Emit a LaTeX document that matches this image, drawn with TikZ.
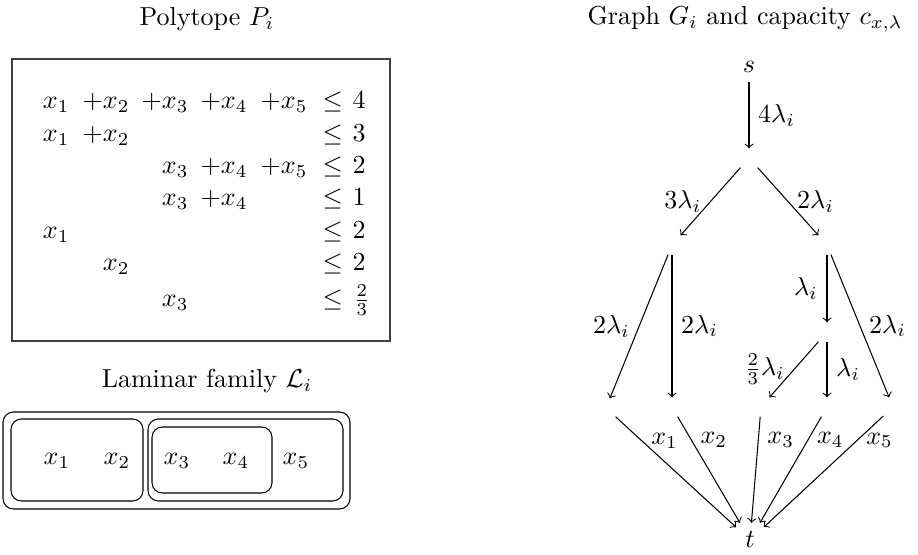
\documentclass[tikz,border=0pt]{standalone}
\begin{document}
\begin{tikzpicture}[x=0.3846pt,y=-0.3846pt,
  ttl/.style={anchor=base, inner sep=0pt},
  ent/.style={anchor=base east, inner sep=0pt},
  rel/.style={anchor=base west, inner sep=0pt},
  vx/.style={minimum size=7pt, inner sep=0pt},
  lam/.style={draw, rounded corners=4pt},
  arr/.style={->}]
\useasboundingbox (0,0) rectangle (918,555);
% titles
\node[ttl] (tP) at (207,26) {Polytope $P_i$};
\node[ttl] (tL) at (207,388) {Laminar family $\mathcal{L}_i$};
\node[ttl] (tG) at (745,25) {Graph $G_i$ and capacity $c_{x,\lambda}$};
% polytope box
\draw[line width=0.5pt, draw=black!75] (12,59) rectangle (390,341);
% row 1
\node[ent] (r1a) at (70,109) {$x_1$};
\node[ent] (r1b) at (130,109) {$+x_2$};
\node[ent] (r1c) at (189,109) {$+x_3$};
\node[ent] (r1d) at (248,109) {$+x_4$};
\node[ent] (r1e) at (308,109) {$+x_5$};
\node[rel] (r1l) at (322,109) {$\le$};
\node[rel] (r1r) at (352,109) {$4$};
% row 2
\node[ent] (r2a) at (70,141.5) {$x_1$};
\node[ent] (r2b) at (130,141.5) {$+x_2$};
\node[rel] (r2l) at (322,141.5) {$\le$};
\node[rel] (r2r) at (352,141.5) {$3$};
% row 3
\node[ent] (r3c) at (189,174) {$x_3$};
\node[ent] (r3d) at (248,174) {$+x_4$};
\node[ent] (r3e) at (308,174) {$+x_5$};
\node[rel] (r3l) at (322,174) {$\le$};
\node[rel] (r3r) at (352,174) {$2$};
% row 4
\node[ent] (r4c) at (189,206) {$x_3$};
\node[ent] (r4d) at (248,206) {$+x_4$};
\node[rel] (r4l) at (322,206) {$\le$};
\node[rel] (r4r) at (352,206) {$1$};
% row 5
\node[ent] (r5a) at (70,238.5) {$x_1$};
\node[rel] (r5l) at (322,238.5) {$\le$};
\node[rel] (r5r) at (352,238.5) {$2$};
% row 6
\node[ent] (r6b) at (130,271) {$x_2$};
\node[rel] (r6l) at (322,271) {$\le$};
\node[rel] (r6r) at (352,271) {$2$};
% row 7
\node[ent] (r7c) at (189,307) {$x_3$};
\node[rel] (r7l) at (322,307) {$\le$};
\node[rel] (r7r) at (353,307) {$\frac{2}{3}$};
% laminar family
\draw[lam] (3,412) rectangle (350,509);
\draw[lam] (11,419) rectangle (143,501);
\draw[lam] (148,419) rectangle (343,501);
\draw[lam] (152,427) rectangle (272,493);
\node (l1) at (57,461) {$x_1$};
\node (l2) at (117,461) {$x_2$};
\node (l3) at (177,461) {$x_3$};
\node (l4) at (236,461) {$x_4$};
\node (l5) at (296,461) {$x_5$};
% graph
\node (s) at (749,67) {$s$};
\node[vx] (a) at (749,158) {};
\node[vx] (b) at (672,245) {};
\node[vx] (c) at (827,245) {};
\node[vx] (d) at (827,332) {};
\node[vx] (X1) at (606,408) {};
\node[vx] (X2) at (672,407) {};
\node[vx] (X3) at (761,407) {};
\node[vx] (X4) at (827,407) {};
\node[vx] (X5) at (893,407) {};
\node (t) at (750,540) {$t$};
\draw[arr] (s) -- node[right] {$4\lambda_i$} (a);
\draw[arr] (a) -- node[left] {$3\lambda_i$} (b);
\draw[arr] (a) -- node[right] {$2\lambda_i$} (c);
\draw[arr] (b) -- node[left] {$2\lambda_i$} (X1);
\draw[arr] (b) -- node[right] {$2\lambda_i$} (X2);
\draw[arr] (c) -- node[left] {$\lambda_i$} (d);
\draw[arr] (c) -- node[right] {$2\lambda_i$} (X5);
\draw[arr] (d) -- node[left] {$\frac{2}{3}\lambda_i$} (X3);
\draw[arr] (d) -- node[right] {$\lambda_i$} (X4);
\draw[arr] (X1) -- node[right,pos=0.22] {$x_1$} (t);
\draw[arr] (X2) -- node[right,pos=0.22] {$x_2$} (t);
\draw[arr] (X3) -- node[right,pos=0.22] {$x_3$} (t);
\draw[arr] (X4) -- node[right,pos=0.22] {$x_4$} (t);
\draw[arr] (X5) -- node[right,pos=0.22] {$x_5$} (t);
\end{tikzpicture}
\end{document}
